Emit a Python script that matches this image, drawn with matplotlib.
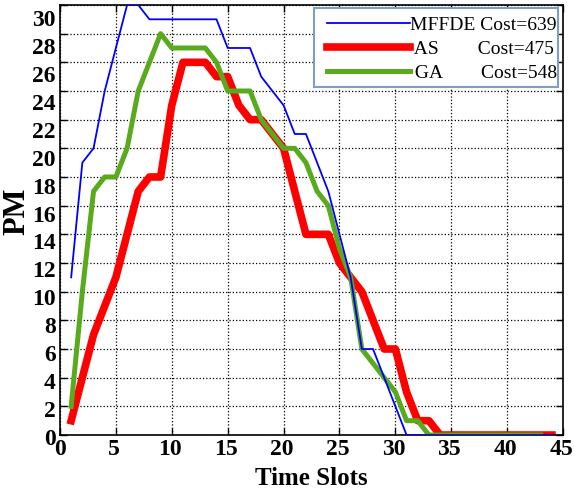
import numpy as np
from matplotlib import pyplot as plt
from matplotlib.patches import Rectangle
from matplotlib.transforms import ScaledTranslation

# MFFDE
x_mf = [1, 2, 3, 4, 5, 6, 7, 8, 14, 15, 17, 18, 19, 20, 21, 22, 24, 25, 26, 27, 28, 29, 30, 31, 44]
y_mf = [11, 19, 20, 24, 27, 30, 30, 29, 29, 27, 27, 25, 24, 23, 21, 21, 17, 14, 11, 6, 6, 4, 2, 0, 0]

# AS
x_as = [1, 3, 4, 5, 6, 7, 8, 9, 10, 11, 13, 14, 15, 16, 17, 18, 19, 20, 22, 24, 25, 26, 27, 29, 30, 31, 32, 33, 34, 44]
y_as = [1, 7, 9, 11, 14, 17, 18, 18, 23, 26, 26, 25, 25, 23, 22, 22, 21, 20, 14, 14, 12, 11, 10, 6, 6, 3, 1, 1, 0, 0]

# GA
x_ga = [1, 2, 3, 4, 5, 6, 7, 8, 9, 10, 13, 14, 15, 17, 18, 19, 20, 21, 22, 23, 24, 25, 26, 27, 29, 30, 31, 32, 33, 43]
y_ga = [2, 10, 17, 18, 18, 20, 24, 26, 28, 27, 27, 26, 24, 24, 22, 21, 20, 20, 19, 17, 16, 13, 11, 6, 4, 3, 1, 1, 0, 0]

labels = ['MFFDE Cost=639', ' AS        Cost=475', ' GA        Cost=548']
xticks = np.arange(0, 46, 5)
yticks = np.arange(0, 31, 2)

serif = 'Liberation Serif'

fig = plt.figure(figsize=(5.74, 4.93), dpi=100)
ax = fig.add_axes([0.1045, 0.1176, 0.8765, 0.8723])

ax.plot(x_mf, y_mf, color='#0000ff', lw=1.3, label=labels[0], zorder=4)
ax.plot(x_as, y_as, color='#ff0000', lw=5.5, label=labels[1], zorder=2)
ax.plot(x_ga, y_ga, color='#5aaa1e', lw=3.6, label=labels[2], zorder=3)

ax.set_xlim(0, 45)
ax.set_ylim(0, 30)
ax.set_xticks(xticks)
ax.set_yticks(yticks)
ax.grid(True, color='black', linestyle=':', linewidth=0.9)
ax.tick_params(direction='in', top=True, right=True, length=5, width=1)
ax.tick_params(axis='x', pad=3)
ax.tick_params(axis='y', pad=3)
for s in ax.spines.values():
    s.set_linewidth(1.2)

for lab in ax.get_xticklabels() + ax.get_yticklabels():
    lab.set_fontfamily(serif)
    lab.set_fontweight('bold')
    lab.set_fontsize(17)

# the tick labels in the original sit a little off their ticks
for tick, v in zip(ax.yaxis.get_major_ticks(), yticks):
    off = 1.5 + 0.4 * v
    tick.label1.set_transform(tick.label1.get_transform() +
                              ScaledTranslation(0, -off / 100, fig.dpi_scale_trans))
for tick, v in zip(ax.xaxis.get_major_ticks(), xticks):
    if v == 0:
        continue
    tick.label1.set_transform(tick.label1.get_transform() +
                              ScaledTranslation(-2 / 100, 0, fig.dpi_scale_trans))

ax.set_xlabel('Time Slots', fontfamily=serif, fontweight='bold', fontsize=18, labelpad=5)
ax.set_ylabel('PM', fontfamily=serif, fontweight='bold', fontsize=22)
ax.yaxis.set_label_coords(-0.057, 0.52)

ax.add_patch(Rectangle((0.505, 0.809), 0.485, 0.184, transform=ax.transAxes,
                       facecolor='white', edgecolor='#7f9fbf', lw=1.5, zorder=4.5))
leg = ax.legend(loc='upper right', bbox_to_anchor=(0.988, 0.974), handlelength=4.27,
                handletextpad=0.0, labelspacing=0.33, borderpad=0, borderaxespad=0,
                frameon=False, prop={'family': serif, 'size': 14})
leg.set_zorder(6)

fig.savefig('out.png', dpi=100)
